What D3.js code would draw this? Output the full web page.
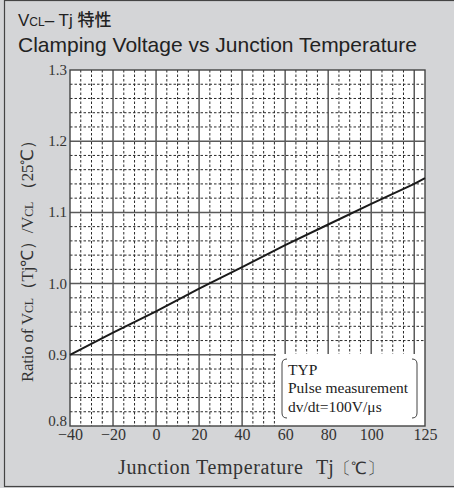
<!DOCTYPE html>
<html>
<head>
<meta charset="utf-8">
<script src="https://cdn.jsdelivr.net/npm/d3@7"></script>
<style>
  body { margin: 0; background: #d4d5d7; }
  svg { display: block; }
</style>
</head>
<body>
<svg id="chart" width="454" height="488"></svg>
<script>
// data
const tempC = [-40, -20, 0, 20, 40, 60, 80, 100, 120, 125];
const ratio = [0.900, 0.931, 0.961, 0.993, 1.023, 1.054, 1.083, 1.112, 1.140, 1.148];
const xTickLabels = [-40, -20, 0, 20, 40, 60, 80, 100, 125];
const yTickLabels = [0.8, 0.9, 1.0, 1.1, 1.2, 1.3];
const legendLines = ["TYP", "Pulse measurement", "dv/dt=100V/\u03bcs"];

const width = 454;
const height = 488;
const marginLeft = 70;
const marginRight = 29;
const marginTop = 70;
const marginBottom = 62;
const serif = "'Liberation Serif', 'Times New Roman', serif";
const sans = "'Liberation Sans', Arial, 'Noto Sans CJK JP', sans-serif";

const svg = d3.select("#chart");

// outer frame
svg.append("rect")
  .attr("x", 4.5).attr("y", 0.5)
  .attr("width", width + 10).attr("height", height - 2)
  .attr("fill", "#d4d5d7")
  .attr("stroke", "#444")
  .attr("stroke-width", 1.2);

const x = d3.scaleLinear()
  .domain([-40, 125])
  .range([marginLeft, width - marginRight]);

const y = d3.scaleLinear()
  .domain([0.8, 1.3])
  .range([height - marginBottom, marginTop]);

// plot background
svg.append("rect")
  .attr("x", x(-40)).attr("y", y(1.3))
  .attr("width", x(125) - x(-40)).attr("height", y(0.8) - y(1.3))
  .attr("fill", "white");

const grid = svg.append("g");

// minor dashed grid
const xMinor = d3.range(-35, 125, 5).filter(d => d % 20 !== 0);
const yMinor = d3.range(0, 25).map(i => 0.8 + i * 0.02).filter((d, i) => i % 5 !== 0 && i > 0);

grid.selectAll(".xminor").data(xMinor).join("line")
  .attr("x1", d => x(d)).attr("x2", d => x(d))
  .attr("y1", y(1.3)).attr("y2", y(0.8))
  .attr("stroke", "#2a2a2a").attr("stroke-width", 1)
  .attr("stroke-dasharray", "2.5,2");

grid.selectAll(".yminor").data(yMinor).join("line")
  .attr("y1", d => y(d)).attr("y2", d => y(d))
  .attr("x1", x(-40)).attr("x2", x(125))
  .attr("stroke", "#2a2a2a").attr("stroke-width", 1)
  .attr("stroke-dasharray", "2.5,2");

// major solid grid
grid.selectAll(".xmajor").data(d3.range(-20, 121, 20)).join("line")
  .attr("x1", d => x(d)).attr("x2", d => x(d))
  .attr("y1", y(1.3)).attr("y2", y(0.8))
  .attr("stroke", "#5a5a5a").attr("stroke-width", 1.5);

grid.selectAll(".ymajor").data([0.9, 1.0, 1.1, 1.2]).join("line")
  .attr("y1", d => y(d)).attr("y2", d => y(d))
  .attr("x1", x(-40)).attr("x2", x(125))
  .attr("stroke", "#5a5a5a").attr("stroke-width", 1.5);

// legend box (covers grid)
const lg = svg.append("g");
lg.append("rect")
  .attr("x", 276).attr("y", 354)
  .attr("width", x(125) - 276).attr("height", y(0.8) - 354)
  .attr("fill", "white");
lg.append("path")
  .attr("d", "M287,359 Q282,359 282,364 L282,413 Q282,418 287,418")
  .attr("fill", "none").attr("stroke", "#444").attr("stroke-width", 1);
lg.append("path")
  .attr("d", "M412,359 Q417,359 417,364 L417,413 Q417,418 412,418")
  .attr("fill", "none").attr("stroke", "#444").attr("stroke-width", 1);
lg.selectAll("text").data(legendLines).join("text")
  .attr("x", 288)
  .attr("y", (d, i) => 375 + i * 18.4)
  .attr("font-family", serif)
  .attr("font-size", "15.5px")
  .attr("fill", "#222")
  .text(d => d);

// plot border
svg.append("rect")
  .attr("x", x(-40)).attr("y", y(1.3))
  .attr("width", x(125) - x(-40)).attr("height", y(0.8) - y(1.3))
  .attr("fill", "none")
  .attr("stroke", "#444")
  .attr("stroke-width", 1.4);

// curve
const line = d3.line()
  .x((d, i) => x(tempC[i]))
  .y(d => y(d));

svg.append("path")
  .datum(ratio)
  .attr("fill", "none")
  .attr("stroke", "#1a1a1a")
  .attr("stroke-width", 2)
  .attr("d", line);

// x axis
svg.append("g")
  .attr("transform", `translate(0,${y(0.8)})`)
  .call(d3.axisBottom(x).tickValues(xTickLabels).tickSize(0).tickPadding(3))
  .call(g => g.select(".domain").remove())
  .selectAll("text")
  .attr("font-family", serif)
  .attr("font-size", "16px")
  .attr("fill", "#333");

// y axis
svg.append("g")
  .attr("transform", `translate(${x(-40)},0)`)
  .call(d3.axisLeft(y).tickValues(yTickLabels).tickFormat(d3.format(".1f")).tickSize(0).tickPadding(3))
  .call(g => g.select(".domain").remove())
  .selectAll("text")
  .attr("font-family", serif)
  .attr("font-size", "15px")
  .attr("fill", "#333")
  .attr("dy", d => d === 0.8 ? "-0.05em" : "0.3em");

// axis titles
svg.append("text")
  .attr("x", 118)
  .attr("y", 474)
  .attr("font-family", serif)
  .attr("font-size", "20px")
  .attr("fill", "#333")
  .attr("textLength", 185)
  .attr("lengthAdjust", "spacing")
  .text("Junction Temperature");

const xUnit = svg.append("text")
  .attr("x", 316)
  .attr("y", 474)
  .attr("font-family", serif)
  .attr("font-size", "20px")
  .attr("fill", "#333");
xUnit.append("tspan").text("Tj");
xUnit.append("tspan").attr("font-size", "17px").text("\u3014\u2103\u3015");

const yTitle = svg.append("text")
  .attr("transform", "translate(33,382) rotate(-90)")
  .attr("font-family", serif)
  .attr("font-size", "17px")
  .attr("fill", "#333")
  .attr("textLength", 250)
  .attr("lengthAdjust", "spacing");
yTitle.append("tspan").text("Ratio of V");
yTitle.append("tspan").attr("font-size", "12px").text("CL");
yTitle.append("tspan").text("\uff08Tj\u2103\uff09/V");
yTitle.append("tspan").attr("font-size", "12px").text("CL");
yTitle.append("tspan").text(" \uff0825\u2103\uff09");

// title
const t1 = svg.append("text")
  .attr("x", 18).attr("y", 26)
  .attr("font-family", sans)
  .attr("font-size", "17px")
  .attr("fill", "#222");
t1.append("tspan").text("V");
t1.append("tspan").attr("font-size", "12px").text("CL");
t1.append("tspan").text("\u2013 Tj ");
t1.append("tspan").attr("font-family", "'Noto Sans CJK JP', sans-serif").attr("font-weight", 500).text("特性");

svg.append("text")
  .attr("x", 18).attr("y", 52)
  .attr("font-family", sans)
  .attr("font-size", "21px")
  .attr("fill", "#222")
  .text("Clamping Voltage vs Junction Temperature");
</script>
</body>
</html>
